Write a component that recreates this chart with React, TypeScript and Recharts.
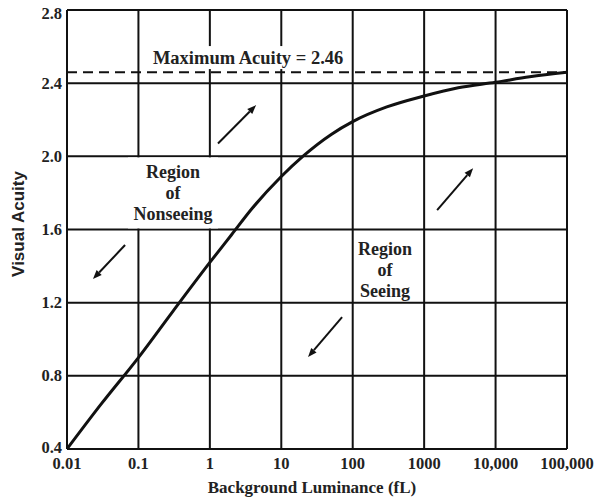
import React from 'react';
import {
  ComposedChart,
  Line,
  XAxis,
  YAxis,
  CartesianGrid,
  ReferenceLine,
  ReferenceDot,
} from 'recharts';

// Data
const luminance = [0.01, 0.03, 0.1, 0.3, 1, 2, 4, 10, 20, 50, 100, 300, 1000, 3000, 10000, 30000, 100000];
const acuity = [0.4, 0.645, 0.9, 1.15, 1.42, 1.57, 1.72, 1.89, 2.0, 2.12, 2.19, 2.27, 2.33, 2.375, 2.405, 2.435, 2.46];

const xTicks = [0.01, 0.1, 1, 10, 100, 1000, 10000, 100000];
const xTickLabels = ['0.01', '0.1', '1', '10', '100', '1000', '10,000', '100,000'];
const yTicks = [0.4, 0.8, 1.2, 1.6, 2.0, 2.4, 2.8];
const yTickLabels = ['0.4', '0.8', '1.2', '1.6', '2.0', '2.4', '2.8'];

const maxAcuity = 2.46;

// Arrow annotations (data coordinates)
const arrowStartX = [1.3, 0.065, 1520, 71];
const arrowStartY = [2.07, 1.515, 1.706, 1.121];
const arrowEndX = [4.44, 0.0231, 4850, 23.7];
const arrowEndY = [2.28, 1.329, 1.935, 0.903];

// Text annotations (data coordinates of their centres)
const noteX = [3.43, 0.305, 284];
const noteY = [2.54, 1.8, 1.378];
const noteLines = [['Maximum Acuity = 2.46'], ['Region', 'of', 'Nonseeing'], ['Region', 'of', 'Seeing']];
const noteBox = [
  { w: 204, h: 23 },
  { w: 90, h: 71 },
  null,
];

const data = luminance.map((x, i) => ({ x, y: acuity[i] }));

const SERIF = '"Liberation Serif", "Times New Roman", serif';
const SANS = '"Liberation Sans", Arial, sans-serif';

const ArrowShape = (props: any) => {
  const { x1, y1, x2, y2 } = props;
  if ([x1, y1, x2, y2].some((v) => typeof v !== 'number' || isNaN(v))) return null;
  const dx = x2 - x1;
  const dy = y2 - y1;
  const len = Math.sqrt(dx * dx + dy * dy) || 1;
  const ux = dx / len;
  const uy = dy / len;
  const hl = 9;
  const hw = 3.5;
  const bx = x2 - ux * hl;
  const by = y2 - uy * hl;
  const p1 = `${x2},${y2}`;
  const p2 = `${bx - uy * hw},${by + ux * hw}`;
  const p3 = `${bx + uy * hw},${by - ux * hw}`;
  return (
    <g>
      <line x1={x1} y1={y1} x2={bx} y2={by} stroke="#111" strokeWidth={2} />
      <polygon points={`${p1} ${p2} ${p3}`} fill="#111" />
    </g>
  );
};

const makeNote = (idx: number) => (props: any) => {
  const { cx, cy } = props;
  const lines = noteLines[idx];
  const box = noteBox[idx];
  const lh = 21;
  const start = cy - ((lines.length - 1) * lh) / 2;
  return (
    <g>
      {box && (
        <rect x={cx - box.w / 2} y={cy - box.h / 2} width={box.w} height={box.h} fill="#fff" />
      )}
      {lines.map((t, i) => (
        <text
          key={i}
          x={cx}
          y={start + i * lh}
          textAnchor="middle"
          dominantBaseline="central"
          fontFamily={SERIF}
          fontWeight="bold"
          fontSize={idx === 0 ? 18.5 : 18}
          fill="#222"
        >
          {t}
        </text>
      ))}
    </g>
  );
};

const XTick = (props: any) => {
  const { x, y, payload } = props;
  const i = xTicks.indexOf(payload.value);
  return (
    <text
      x={x}
      y={y + 6}
      textAnchor="middle"
      dominantBaseline="central"
      fontFamily={SERIF}
      fontWeight="bold"
      fontSize={16.5}
      fill="#222"
    >
      {i >= 0 ? xTickLabels[i] : String(payload.value)}
    </text>
  );
};

const YTick = (props: any) => {
  const { x, y, payload } = props;
  const i = yTicks.indexOf(payload.value);
  const shift = i === yTicks.length - 1 ? 3 : i === 0 ? -2 : 0;
  return (
    <text
      x={x}
      y={y + shift}
      textAnchor="end"
      dominantBaseline="central"
      fontFamily={SERIF}
      fontWeight="bold"
      fontSize={16.5}
      fill="#222"
    >
      {i >= 0 ? yTickLabels[i] : String(payload.value)}
    </text>
  );
};

const XTitle = (props: any) => {
  const vb = props.viewBox || {};
  const x = vb.x + vb.width / 2 - 5;
  return (
    <text x={x} y={493} textAnchor="middle" fontFamily={SERIF} fontWeight="bold" fontSize={17} fill="#222">
      Background Luminance (fL)
    </text>
  );
};

const YTitle = () => (
  <text
    x={18}
    y={224}
    transform="rotate(-90 18 224)"
    textAnchor="middle"
    dominantBaseline="central"
    fontFamily={SANS}
    fontWeight="bold"
    fontSize={17}
    fill="#222"
  >
    Visual Acuity
  </text>
);

export default function App() {
  return (
    <div style={{ position: 'fixed', left: 0, top: 0, width: 595, height: 500, background: '#fff' }}>
      <ComposedChart
        width={595}
        height={500}
        data={data}
        margin={{ top: 10, right: 28, bottom: 0, left: 0 }}
      >
        <CartesianGrid stroke="#111" strokeWidth={2} />
        <XAxis
          dataKey="x"
          type="number"
          scale="log"
          domain={[0.01, 100000]}
          ticks={xTicks}
          allowDataOverflow
          interval={0}
          height={51}
          tickLine={false}
          tickSize={6}
          tickMargin={2}
          axisLine={{ stroke: '#111', strokeWidth: 2 }}
          tick={<XTick />}
          label={<XTitle />}
        />
        <YAxis
          dataKey="y"
          type="number"
          domain={[0.4, 2.8]}
          ticks={yTicks}
          interval={0}
          width={67}
          tickLine={false}
          tickSize={3}
          tickMargin={2}
          axisLine={{ stroke: '#111', strokeWidth: 2 }}
          tick={<YTick />}
          label={<YTitle />}
        />
        <ReferenceLine y={maxAcuity} stroke="#111" strokeWidth={2} strokeDasharray="10 6" />
        {arrowStartX.map((sx, i) => (
          <ReferenceLine
            key={`arrow-${i}`}
            segment={[
              { x: sx, y: arrowStartY[i] },
              { x: arrowEndX[i], y: arrowEndY[i] },
            ]}
            shape={ArrowShape}
            ifOverflow="visible"
          />
        ))}
        <Line
          dataKey="y"
          type="monotone"
          stroke="#111"
          strokeWidth={3}
          dot={false}
          activeDot={false}
          isAnimationActive={false}
        />
        {noteX.map((nx, i) => (
          <ReferenceDot key={`note-${i}`} x={nx} y={noteY[i]} r={1} shape={makeNote(i)} ifOverflow="visible" />
        ))}
      </ComposedChart>
    </div>
  );
}
